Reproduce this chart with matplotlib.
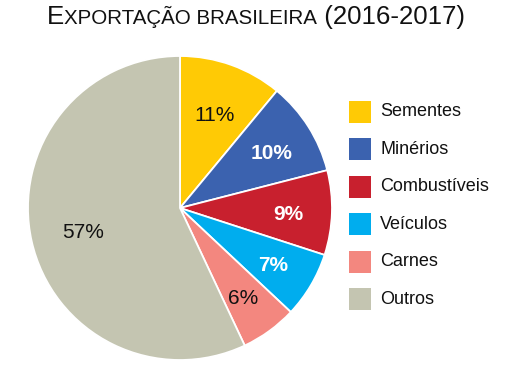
import matplotlib.pyplot as plt
from matplotlib.patches import Rectangle

categorias = ["Sementes", "Minérios", "Combustíveis", "Veículos", "Carnes", "Outros"]
valores = [11, 10, 9, 7, 6, 57]
cores = ["#FFCA05", "#3B62AF", "#C8202E", "#00ADEE", "#F3877F", "#C4C5B1"]
cor_rotulo = ["#111111", "white", "white", "white", "#111111", "#111111"]
negrito = [False, True, True, True, False, False]

plt.rcParams['font.family'] = ['Liberation Sans', 'DejaVu Sans']

W, H = 512, 372
fig = plt.figure(figsize=(W / 100, H / 100), dpi=100)

# pizza: centro (180, 208) px, raio ~152 px
cx, cy, r = 180, 208, 152
ax = fig.add_axes([(cx - r) / W, (H - cy - r) / H, 2 * r / W, 2 * r / H])
wedges, textos, autotextos = ax.pie(
    valores, colors=cores, startangle=90, counterclock=False,
    autopct='%d%%', pctdistance=0.71,
    wedgeprops=dict(edgecolor='white', linewidth=1.3))
ax.set_xlim(-1, 1)
ax.set_ylim(-1, 1)
ax.set_aspect('equal')
for t, c, b in zip(autotextos, cor_rotulo, negrito):
    t.set_color(c)
    t.set_fontsize(15)
    if b:
        t.set_fontweight('bold')
# rotulos de 11% e 57% um pouco mais perto do centro; todos ~3px abaixo
fatores = [0.94, 1, 1, 1, 1, 0.92]
for t, f in zip(autotextos, fatores):
    x, y = t.get_position()
    t.set_position((x * f, y * f - 3 / r))

# legenda manual
for i, (nome, cor) in enumerate(zip(categorias, cores)):
    topo = 101 + i * 37.4
    fig.patches.append(Rectangle((349 / W, 1 - (topo + 22) / H), 22 / W, 22 / H,
                                 transform=fig.transFigure, facecolor=cor, edgecolor='none'))
    fig.text(380 / W, 1 - (topo + 11) / H, nome, fontsize=13, va='center', ha='left', color='#111111')

# titulo em versalete
partes = [("E", 18.6), ("XPORTAÇÃO BRASILEIRA", 14.8), (" (2016-2017)", 18.6)]
fig.canvas.draw()
ren = fig.canvas.get_renderer()
xpos = 47
for texto, tam in partes:
    t = fig.text(xpos / W, 1 - 24 / H, texto, fontsize=tam, va='baseline', ha='left', color='#111111')
    xpos += t.get_window_extent(ren).width

fig.savefig("out.png", dpi=100)
